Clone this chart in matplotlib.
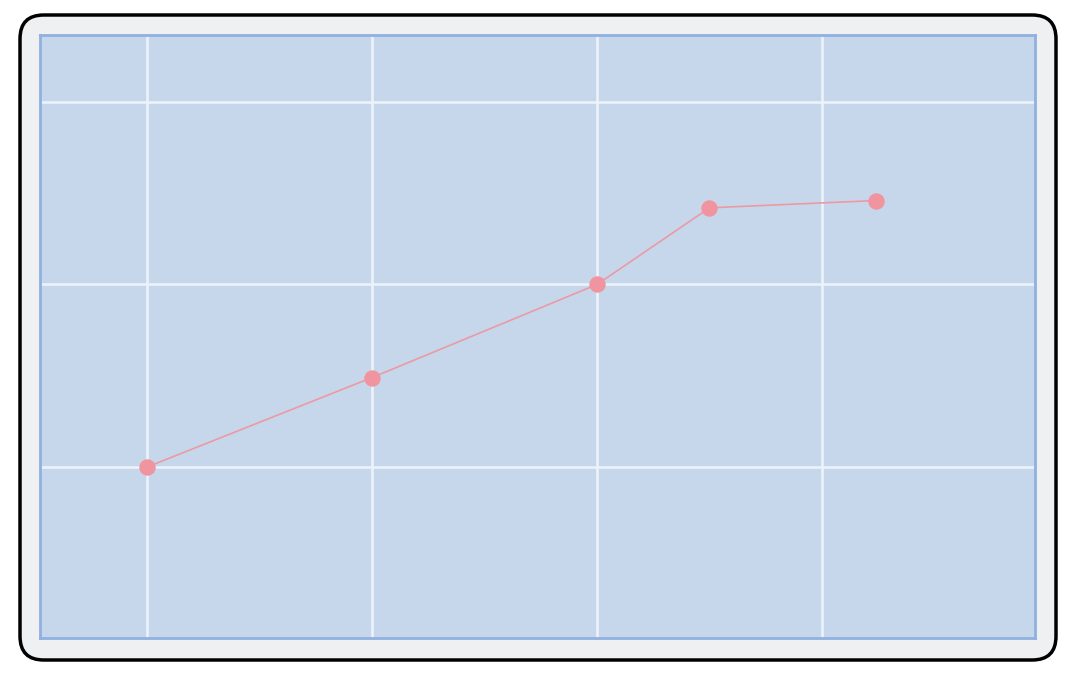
import matplotlib.pyplot as plt
from matplotlib.patches import FancyBboxPatch

x_values = [1.0, 2.0, 3.0, 3.5, 4.24]
y_values = [1.0, 1.49, 2.0, 2.42, 2.46]
x_ticks = [1, 2, 3, 4]
y_ticks = [1, 2, 3]

fig = plt.figure(figsize=(10.8, 6.79), dpi=100)
fig.patch.set_facecolor('white')

# outer rounded card
card = FancyBboxPatch((20 / 1080, 19 / 679), 1036 / 1080, 645 / 679,
                      boxstyle='round,pad=0,rounding_size=0.022',
                      transform=fig.transFigure, facecolor='#eef0f1',
                      edgecolor='black', linewidth=2.5, mutation_aspect=1080 / 679,
                      zorder=-1)
fig.patches.append(card)

ax = fig.add_axes([40 / 1080, 41 / 679, 995 / 1080, 603 / 679])
ax.set_zorder(1)
ax.set_facecolor('#c6d7ec')
for spine in ax.spines.values():
    spine.set_color('#8fb0e0')
    spine.set_linewidth(2)

ax.plot(x_values, y_values, color='#eb9aa4', linewidth=1.2, zorder=3)
ax.scatter(x_values, y_values, s=140, color='#f0959f', zorder=4, linewidths=0)

ax.set_xlim(0.524, 4.947)
ax.set_ylim(0.063, 3.367)
ax.set_xticks(x_ticks)
ax.set_yticks(y_ticks)
ax.grid(True, color='#eef3fb', linewidth=1.8)
ax.set_axisbelow(True)
ax.tick_params(length=0, labelbottom=False, labelleft=False)

fig.savefig('out.png', dpi=100)
